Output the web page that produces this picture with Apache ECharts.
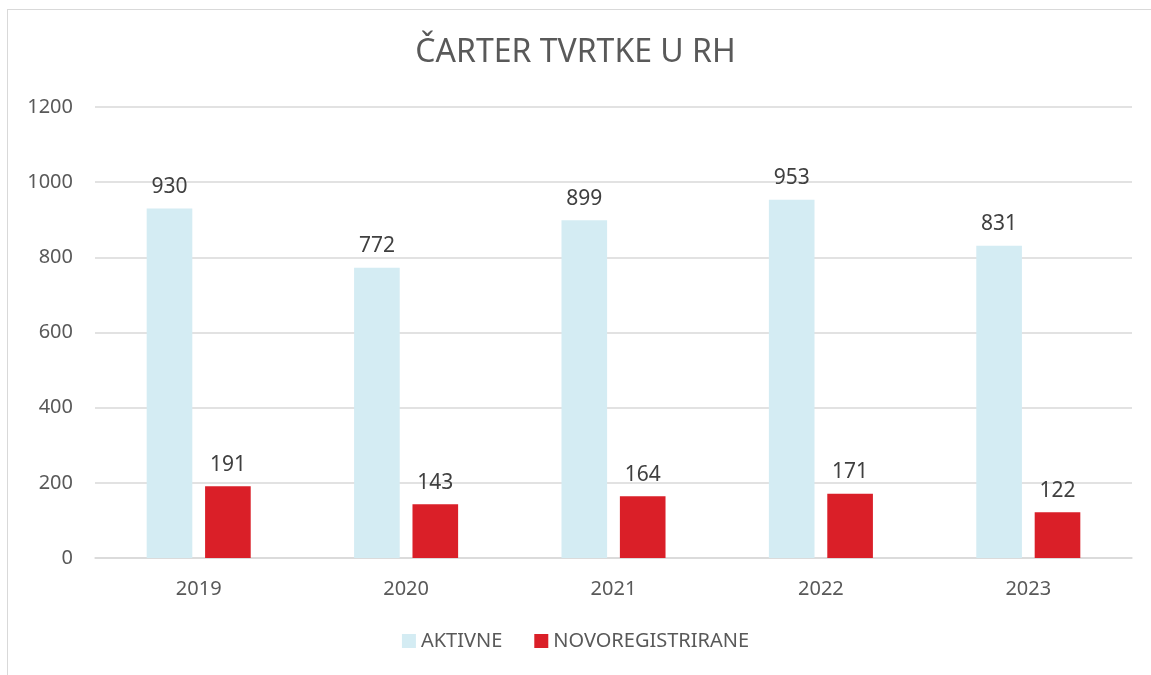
<!DOCTYPE html>
<html>
<head>
<meta charset="utf-8">
<script src="https://cdn.jsdelivr.net/npm/echarts@6/dist/echarts.min.js"></script>
<style>
  html, body { margin: 0; padding: 0; background: #fff; overflow: hidden; }
  #frame { position: absolute; left: 7px; top: 9px; width: 1200px; height: 700px; border: 1px solid #d9d9d9; }
  #chart { position: absolute; left: 0; top: 0; width: 1151px; height: 675px; }
</style>
</head>
<body>
<div id="frame"></div>
<div id="chart"></div>
<script>
const years = ['2019', '2020', '2021', '2022', '2023'];
const aktivne = [930, 772, 899, 953, 831];
const novoregistrirane = [191, 143, 164, 171, 122];
const yTicks = { min: 0, max: 1200, interval: 200 };

const font = '"Noto Sans", "Open Sans", sans-serif';

const chart = echarts.init(document.getElementById('chart'));

const labelStyle = {
  show: true,
  position: 'top',
  distance: 11,
  color: '#404040',
  fontSize: 21,
  fontFamily: font
};

chart.setOption({
  animation: false,
  title: {
    text: 'ČARTER TVRTKE U RH',
    left: 'center',
    top: 32,
    textStyle: { color: '#595959', fontSize: 32, fontWeight: 'normal', fontFamily: font }
  },
  legend: {
    bottom: 19,
    left: 'center',
    itemWidth: 14,
    itemHeight: 14,
    itemGap: 32,
    icon: 'rect',
    textStyle: { color: '#595959', fontSize: 20, fontFamily: font },
    data: ['AKTIVNE', 'NOVOREGISTRIRANE']
  },
  grid: { left: 95, right: 19, top: 107, bottom: 117, containLabel: false },
  xAxis: {
    type: 'category',
    data: years,
    axisLine: { lineStyle: { color: '#d9d9d9', width: 1.5 } },
    axisTick: { show: false },
    axisLabel: { color: '#595959', fontSize: 20, fontFamily: font, margin: 21 }
  },
  yAxis: {
    type: 'value',
    min: yTicks.min,
    max: yTicks.max,
    interval: yTicks.interval,
    axisLine: { show: false },
    axisTick: { show: false },
    splitLine: { lineStyle: { color: '#d9d9d9', width: 1.5 } },
    axisLabel: { color: '#595959', fontSize: 20, fontFamily: font, margin: 22, formatter: v => String(v) }
  },
  series: [
    {
      name: 'AKTIVNE',
      type: 'bar',
      data: aktivne,
      barWidth: '22%',
      barGap: '28%',
      itemStyle: { color: '#d4ecf3' },
      label: labelStyle
    },
    {
      name: 'NOVOREGISTRIRANE',
      type: 'bar',
      data: novoregistrirane,
      barWidth: '22%',
      itemStyle: { color: '#da1f28' },
      label: labelStyle
    }
  ]
});
</script>
</body>
</html>
